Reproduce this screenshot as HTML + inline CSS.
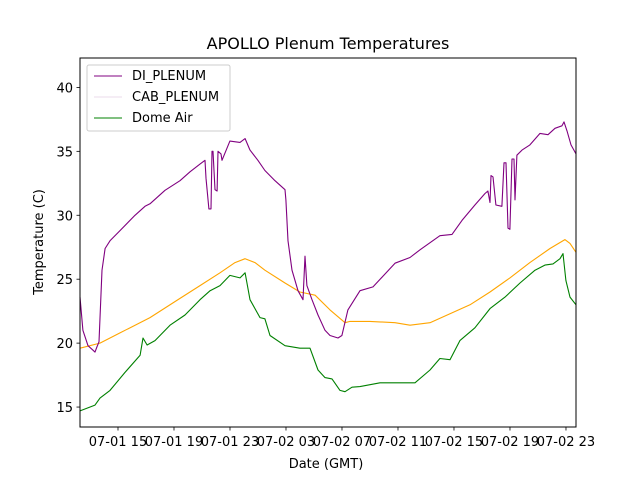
<!DOCTYPE html>
<html><head><meta charset="utf-8"><style>
body{margin:0;background:#fff}
svg text{font-family:"DejaVu Sans","Liberation Sans",sans-serif;fill:#000}
</style></head><body>
<svg id="c" width="640" height="480" xmlns="http://www.w3.org/2000/svg"></svg>
<script>
const START = 12.2857; // elapsed hours origin (hours since 07-01 00:00)
const tickHours = [15,19,23,27,31,35,39,43,47];
const tickLabels = ["07-01 15","07-01 19","07-01 23","07-02 03","07-02 07","07-02 11","07-02 15","07-02 19","07-02 23"];
const yTicks = [15,20,25,30,35,40];
const diT = [0,.21,.57,.93,1.07,1.21,1.36,1.57,1.79,2.14,2.86,3.93,4.64,5,6.07,7.14,7.86,8.57,8.93,9,9.21,9.36,9.43,9.5,9.64,9.79,9.86,10.07,10.14,10.71,11.43,11.79,12.14,12.71,13.21,13.93,14.64,14.71,14.86,15.14,15.57,15.93,16.07,16.21,16.57,17,17.5,17.86,18.43,18.71,19.14,20,20.93,22.5,23.57,24.29,25.71,26.57,27.29,28.21,28.93,29.14,29.29,29.36,29.5,29.71,30.14,30.29,30.43,30.57,30.71,30.86,31,31.07,31.21,31.57,32.14,32.86,33.43,33.93,34.43,34.57,34.79,35.07,35.43];
const diV = [23.6,21.0,19.8,19.45,19.3,19.7,20.1,25.7,27.4,28.0,28.8,30.0,30.7,30.9,31.95,32.7,33.4,34.0,34.3,32.9,30.5,30.5,35.0,35.0,32.0,31.9,35.0,34.8,34.3,35.8,35.7,36.0,35.1,34.3,33.5,32.7,32.0,31.2,28.0,25.7,24.1,23.4,26.8,24.5,23.4,22.2,21.0,20.6,20.4,20.6,22.6,24.1,24.4,26.25,26.7,27.3,28.4,28.5,29.6,30.8,31.7,31.9,31.0,33.1,33.0,30.8,30.7,34.1,34.1,29.0,28.9,34.4,34.4,31.2,34.7,35.1,35.5,36.4,36.3,36.8,37.0,37.3,36.6,35.5,34.8];
const cabT = [0,1.43,2.86,5,7.14,8.57,10,11.07,11.79,12.5,13.21,14.64,15.71,16.79,17.86,18.93,19.29,20.71,22.5,23.57,25,26.43,27.86,29.29,30.71,32.14,33.57,34.64,35,35.43];
const cabV = [19.6,20.0,20.8,22.0,23.5,24.5,25.5,26.3,26.6,26.3,25.7,24.7,24.0,23.75,22.6,21.6,21.7,21.7,21.6,21.4,21.6,22.3,23.0,24.0,25.1,26.3,27.4,28.1,27.8,27.1];
const domeT = [0,1.07,1.43,2.14,3.21,4.29,4.5,4.79,5.36,6.43,7.5,8.57,9.29,10,10.71,11.43,11.79,12.14,12.86,13.21,13.57,14.64,15.71,16.43,17,17.5,18,18.57,18.93,19.43,20,21.43,22.86,23.93,25,25.71,26.43,27.14,28.21,29.29,30.36,31.43,32.5,33.21,33.79,34.29,34.5,34.71,35,35.43];
const domeV = [14.7,15.15,15.7,16.3,17.7,19.05,20.4,19.85,20.2,21.4,22.2,23.4,24.1,24.5,25.3,25.1,25.5,23.4,22.0,21.9,20.6,19.8,19.6,19.6,17.9,17.3,17.2,16.3,16.2,16.55,16.6,16.9,16.9,16.9,17.9,18.8,18.7,20.2,21.2,22.7,23.6,24.7,25.7,26.1,26.2,26.6,27.0,24.9,23.6,23.0];

const L=80,R=576,T=58,B=427;
const X0=0,X1=35.43,Y0=13.44,Y1=42.3;
const sx=t=>L+(t-X0)/(X1-X0)*(R-L);
const sy=v=>B-(v-Y0)/(Y1-Y0)*(B-T);
const svg=document.getElementById('c');
const NS='http://www.w3.org/2000/svg';
function mk(tag,attrs,parent){const e=document.createElementNS(NS,tag);for(const k in attrs)e.setAttribute(k,attrs[k]);(parent||svg).appendChild(e);return e;}

function series(ts,vs,color,name){
  const d=ts.map((t,i)=>(i?'L':'M')+sx(t).toFixed(1)+','+sy(vs[i]).toFixed(1)).join('');
  const p=mk('path',{d:d,fill:'none',stroke:color,'stroke-width':1.1,'stroke-linejoin':'round'});
  
  
}
series(cabT,cabV,'orange','cab-plenum-line');
series(domeT,domeV,'green','dome-air-line');
series(diT,diV,'purple','di-plenum-line');

const frame=mk('rect',{x:L,y:T,width:R-L,height:B-T,fill:'none',stroke:'#000','stroke-width':1});



tickHours.forEach((h,i)=>{
  const x=sx(h-START);
  const tk=mk('line',{x1:x,x2:x,y1:B,y2:B+3.5,stroke:'#000','stroke-width':0.8});
  
  
  const tx=mk('text',{x:x,y:B+19,'font-size':13,'text-anchor':'middle'});
  tx.textContent=tickLabels[i];
  
  
});
yTicks.forEach(v=>{
  const y=sy(v);
  const tk=mk('line',{x1:L-3.5,x2:L,y1:y,y2:y,stroke:'#000','stroke-width':0.8});
  
  
  const tx=mk('text',{x:L-7,y:y+5,'font-size':13,'text-anchor':'end'});
  tx.textContent=v;
  
  
});
</script>
<svg width="640" height="480" style="position:absolute;left:0;top:0">
<text x="328" y="49" font-size="16" text-anchor="middle">APOLLO Plenum Temperatures</text>
<text x="326" y="468" font-size="13" text-anchor="middle">Date (GMT)</text>
<text transform="translate(43,242) rotate(-90)" font-size="13" text-anchor="middle">Temperature (C)</text>
<g>
<rect x="87" y="65" width="143" height="66" rx="2" fill="#fff" fill-opacity="0.8" stroke="#ccc" stroke-width="1"/>
<line x1="94" x2="122" y1="76" y2="76" stroke="purple" stroke-width="0.9"/>
<text x="132" y="80" font-size="13">DI_PLENUM</text>
<line x1="94" x2="122" y1="97" y2="97" stroke="#d8b8d8" stroke-width="0.6"/>
<text x="132" y="101" font-size="13">CAB_PLENUM</text>
<line x1="94" x2="122" y1="118" y2="118" stroke="green" stroke-width="0.9"/>
<text x="132" y="122" font-size="13">Dome Air</text>
</g>
</svg>
</body></html>
